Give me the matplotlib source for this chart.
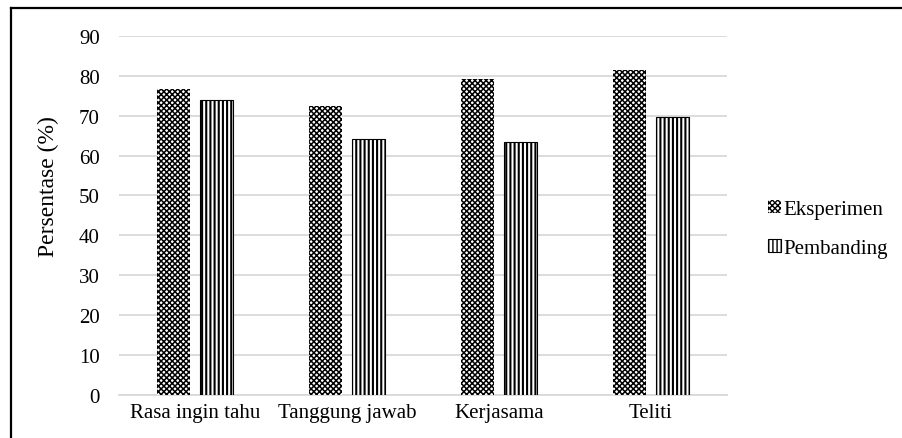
import numpy as np
import matplotlib
matplotlib.use("Agg")
import matplotlib.pyplot as plt
from matplotlib.lines import Line2D

plt.rcParams['font.family'] = ['Liberation Serif', 'DejaVu Serif']

categories = ['Rasa ingin tahu', 'Tanggung jawab', 'Kerjasama', 'Teliti']
eksperimen = [76.6, 72.3, 79.2, 81.5]
pembanding = [73.9, 64.2, 63.5, 69.7]
yticks = list(range(0, 100, 10))

fig = plt.figure(figsize=(9.03, 4.39), dpi=100)
ax = fig.add_axes([0.132, 0.098, 0.673, 0.818])

x = np.arange(len(categories))
width = 0.217
offset = 0.141

with plt.rc_context({'hatch.linewidth': 1.1}):
    b1 = ax.bar(x - offset, eksperimen, width, facecolor='white',
                edgecolor='black', hatch='xxxxxx', linewidth=0, zorder=3,
                label='Eksperimen')
with plt.rc_context({'hatch.linewidth': 1.5}):
    b2 = ax.bar(x + offset, pembanding, width, facecolor='white',
                edgecolor='black', hatch='||||', linewidth=0.8, zorder=3,
                label='Pembanding')

ax.set_xlim(-0.5, len(categories) - 0.5)
ax.set_ylim(0, 90)
ax.set_yticks(yticks)
ax.set_xticks(x)
ax.set_xticklabels(categories)
ax.tick_params(axis='both', length=0, labelsize=15)
ax.tick_params(axis='y', pad=14)
ax.tick_params(axis='x', pad=6)
ax.yaxis.grid(True, color='#d9d9d9', linewidth=1.3, zorder=0)
for side in ['top', 'right', 'left']:
    ax.spines[side].set_visible(False)
ax.spines['bottom'].set_color('#d9d9d9')
ax.spines['bottom'].set_linewidth(1.3)
ax.set_ylabel('Persentase (%)', fontsize=17, va='center')
ax.yaxis.set_label_coords(-0.117, 0.582)

ax.legend(handles=[b1, b2], loc='center left', bbox_to_anchor=(1.037, 0.463),
          frameon=False, fontsize=15, handlelength=0.6, handleheight=0.6,
          handletextpad=0.15, labelspacing=0.95)

# frame along the left and top of the figure
fig.add_artist(Line2D([0.0125, 0.0125], [0, 0.979], color='black', linewidth=1.6))
fig.add_artist(Line2D([0.0125, 1.0], [0.979, 0.979], color='black', linewidth=1.6))

fig.savefig('out.png', dpi=100, facecolor='white')
